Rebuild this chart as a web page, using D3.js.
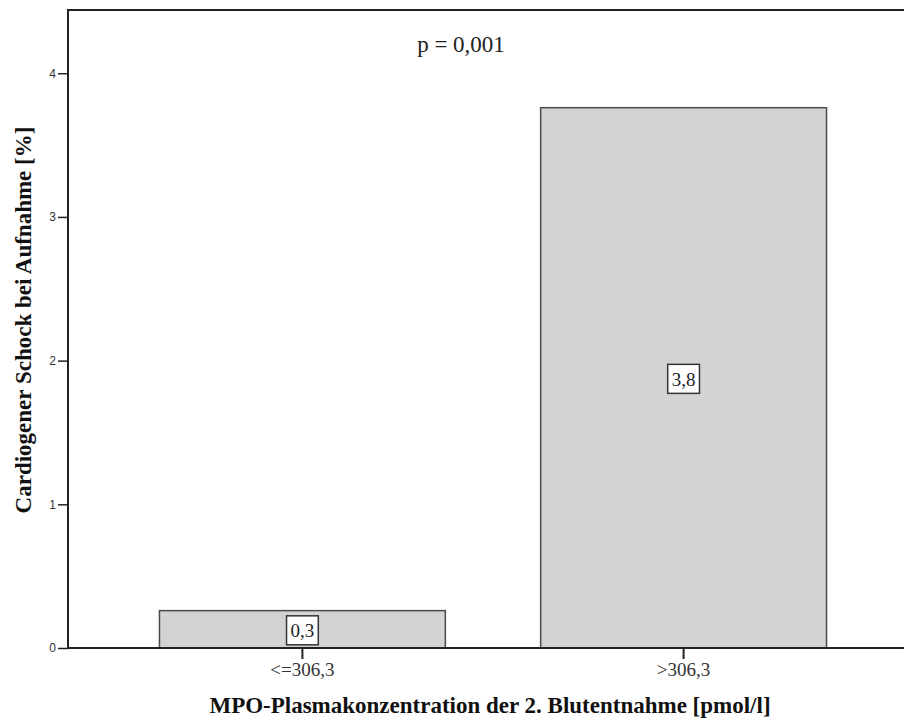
<!DOCTYPE html>
<html>
<head>
<meta charset="utf-8">
<script src="https://cdn.jsdelivr.net/npm/d3@7"></script>
<style>
  body { margin: 0; background: #fff; }
  svg { display: block; }
</style>
</head>
<body>
<svg id="chart" width="904" height="724"></svg>
<script>
// MPO groups vs. cardiogenic shock rate
const categories = ["<=306,3", ">306,3"];
const values = [0.26, 3.76];
const valueLabels = ["0,3", "3,8"];
const yTicks = [0, 1, 2, 3, 4];
const pText = "p = 0,001";
const xTitle = "MPO-Plasmakonzentration der 2. Blutentnahme [pmol/l]";
const yTitle = "Cardiogener Schock bei Aufnahme [%]";

const svg = d3.select("#chart");
const plotLeft = 68, plotRight = 918, plotTop = 10, plotBottom = 648;
const serif = "'Liberation Serif', 'Times New Roman', serif";

const x = d3.scaleBand()
  .domain(categories)
  .range([plotLeft, plotRight])
  .paddingInner(0.25)
  .paddingOuter(0.24);

const y = d3.scaleLinear()
  .domain([0, 4.44])
  .range([plotBottom, plotTop]);

// bars
svg.selectAll("rect.bar")
  .data(values)
  .enter()
  .append("rect")
  .attr("class", "bar")
  .attr("x", (d, i) => x(categories[i]))
  .attr("y", d => y(d))
  .attr("width", x.bandwidth())
  .attr("height", d => plotBottom - y(d))
  .attr("fill", "#d3d3d3")
  .attr("stroke", "#4a4a4a")
  .attr("stroke-width", 1.5);

// frame: left + top
svg.append("path")
  .attr("d", `M${plotLeft},${plotBottom}V${plotTop}H904`)
  .attr("fill", "none")
  .attr("stroke", "#222")
  .attr("stroke-width", 2);

// y axis
const yAxis = svg.append("g")
  .attr("transform", `translate(${plotLeft},0)`)
  .call(d3.axisLeft(y).tickValues(yTicks).tickSize(10).tickPadding(2).tickFormat(d3.format("d")));
yAxis.select(".domain").remove();
yAxis.selectAll("line").attr("stroke", "#222").attr("stroke-width", 1.5);
yAxis.selectAll("text")
  .attr("font-family", "'Liberation Sans', Arial, sans-serif")
  .attr("font-size", 12)
  .attr("fill", "#333");

// x axis
const xAxis = svg.append("g")
  .attr("transform", `translate(0,${plotBottom})`)
  .call(d3.axisBottom(x).tickSize(11).tickPadding(4));
xAxis.select(".domain")
  .attr("d", `M${plotLeft},0H904`)
  .attr("stroke", "#222")
  .attr("stroke-width", 2);
xAxis.selectAll("line").attr("stroke", "#222").attr("stroke-width", 2);
xAxis.selectAll("text")
  .attr("font-family", serif)
  .attr("font-size", 19)
  .attr("fill", "#333");

// value labels in white boxes
const lab = svg.selectAll("g.vlab")
  .data(values)
  .enter()
  .append("g")
  .attr("class", "vlab")
  .attr("transform", (d, i) => `translate(${x(categories[i]) + x.bandwidth() / 2},${(y(d) + plotBottom) / 2 + 1})`);

lab.append("rect")
  .attr("fill", "#fff")
  .attr("stroke", "#333")
  .attr("stroke-width", 1.5);

lab.append("text")
  .attr("text-anchor", "middle")
  .attr("dy", "0.35em")
  .attr("font-family", serif)
  .attr("font-size", 19)
  .attr("fill", "#222")
  .text((d, i) => valueLabels[i]);

lab.each(function () {
  const g = d3.select(this);
  const w = g.select("text").node().getComputedTextLength() + 8;
  g.select("rect")
    .attr("x", -w / 2)
    .attr("y", -14.5)
    .attr("width", w)
    .attr("height", 29);
});

// p value
svg.append("text")
  .attr("x", 461)
  .attr("y", 52)
  .attr("text-anchor", "middle")
  .attr("font-family", serif)
  .attr("font-size", 23)
  .attr("fill", "#222")
  .text(pText);

// axis titles
svg.append("text")
  .attr("x", 490)
  .attr("y", 713)
  .attr("text-anchor", "middle")
  .attr("font-family", serif)
  .attr("font-weight", "bold")
  .attr("font-size", 23)
  .attr("fill", "#111")
  .text(xTitle);

svg.append("text")
  .attr("transform", "translate(31,320) rotate(-90)")
  .attr("text-anchor", "middle")
  .attr("font-family", serif)
  .attr("font-weight", "bold")
  .attr("font-size", 23)
  .attr("fill", "#111")
  .text(yTitle);
</script>
</body>
</html>
